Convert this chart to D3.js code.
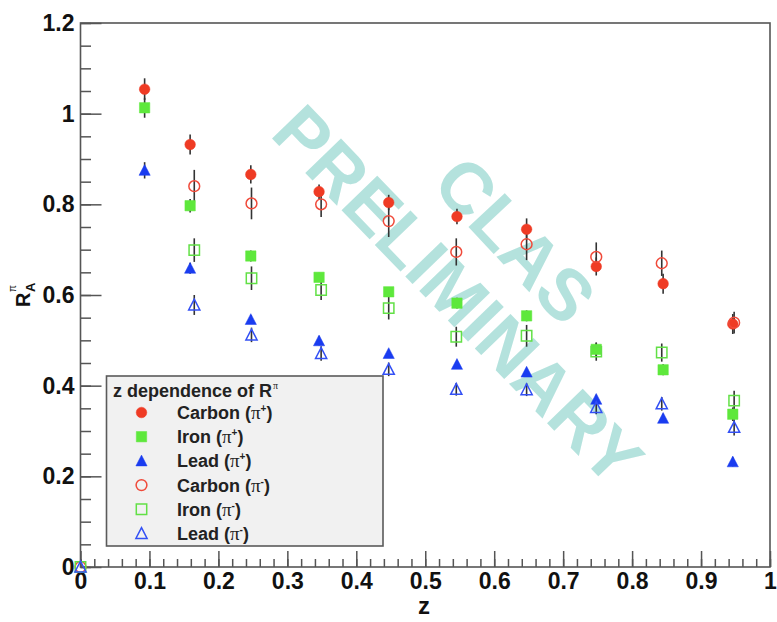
<!DOCTYPE html>
<html>
<head>
<meta charset="utf-8">
<script src="https://cdn.jsdelivr.net/npm/d3@7"></script>
<style>
  html, body { margin: 0; padding: 0; background: #fff; }
  svg { display: block; }
  text { font-family: "Liberation Sans", Arial, Helvetica, sans-serif; }
</style>
</head>
<body>
<svg id="chart" width="777" height="622"></svg>
<script>
// ---- data: nuclear attenuation ratio R_A^pi versus z ----
const zPlus  = [0.093, 0.159, 0.247, 0.346, 0.447, 0.546, 0.647, 0.748, 0.845, 0.946];
const zMinus = [0.000, 0.165, 0.248, 0.349, 0.447, 0.545, 0.647, 0.748, 0.843, 0.948];

const carbonPlus     = [1.054, 0.932, 0.866, 0.828, 0.804, 0.773, 0.745, 0.663, 0.625, 0.536];
const carbonPlusErr  = [0.024, 0.022, 0.020, 0.016, 0.017, 0.017, 0.024, 0.020, 0.022, 0.022];
const ironPlus       = [1.013, 0.797, 0.686, 0.639, 0.607, 0.582, 0.554, 0.480, 0.435, 0.337];
const ironPlusErr    = [0.022, 0.015, 0.012, 0.010, 0.010, 0.012, 0.012, 0.015, 0.012, 0.015];
const leadPlus       = [0.875, 0.659, 0.546, 0.499, 0.471, 0.447, 0.430, 0.370, 0.328, 0.232];
const leadPlusErr    = [0.018, 0.012, 0.010, 0.010, 0.008, 0.008, 0.008, 0.010, 0.010, 0.010];

const carbonMinus    = [0.000, 0.840, 0.802, 0.800, 0.763, 0.695, 0.712, 0.684, 0.670, 0.539];
const carbonMinusErr = [0.000, 0.036, 0.035, 0.028, 0.035, 0.030, 0.035, 0.032, 0.028, 0.024];
const ironMinus      = [0.000, 0.699, 0.637, 0.611, 0.571, 0.508, 0.510, 0.475, 0.473, 0.367];
const ironMinusErr   = [0.000, 0.026, 0.026, 0.022, 0.025, 0.022, 0.024, 0.020, 0.020, 0.022];
const leadMinus      = [0.000, 0.578, 0.512, 0.471, 0.436, 0.392, 0.391, 0.352, 0.360, 0.308];
const leadMinusErr   = [0.000, 0.022, 0.016, 0.016, 0.015, 0.014, 0.014, 0.015, 0.015, 0.018];

const xTickValues = [0, 0.1, 0.2, 0.3, 0.4, 0.5, 0.6, 0.7, 0.8, 0.9, 1];
const xTickLabels = ["0", "0.1", "0.2", "0.3", "0.4", "0.5", "0.6", "0.7", "0.8", "0.9", "1"];
const yTickValues = [0, 0.2, 0.4, 0.6, 0.8, 1, 1.2];
const yTickLabels = ["0", "0.2", "0.4", "0.6", "0.8", "1", "1.2"];

const legendTitle = "z dependence of R";
const seriesNames = ["Carbon", "Iron", "Lead", "Carbon", "Iron", "Lead"];
const seriesCharge = ["+", "+", "+", "-", "-", "-"];

// ---- series styling ----
const RED = "#ef3b24", GREEN = "#5ee83c", BLUE = "#1a3cf0";
const series = [
  { z: zPlus,  v: carbonPlus,  e: carbonPlusErr,  shape: "circle",   filled: true,  color: RED },
  { z: zPlus,  v: ironPlus,    e: ironPlusErr,    shape: "square",   filled: true,  color: GREEN },
  { z: zPlus,  v: leadPlus,    e: leadPlusErr,    shape: "triangle", filled: true,  color: BLUE },
  { z: zMinus, v: carbonMinus, e: carbonMinusErr, shape: "circle",   filled: false, color: "#f04a3a" },
  { z: zMinus, v: ironMinus,   e: ironMinusErr,   shape: "square",   filled: false, color: "#62e046" },
  { z: zMinus, v: leadMinus,   e: leadMinusErr,   shape: "triangle", filled: false, color: "#3350f5" }
];

const svg = d3.select("#chart");
const X0 = 80.5, X1 = 770, Y0 = 567, Y1 = 23;
const x = d3.scaleLinear().domain([0, 1]).range([X0, X1]);
const y = d3.scaleLinear().domain([0, 1.2]).range([Y0, Y1]);

// ---- watermark ----
const wm = svg.append("g").attr("fill", "#b4e2dd")
  .attr("font-weight", "bold").attr("font-size", 72)
  .attr("text-anchor", "middle").attr("dominant-baseline", "central");
wm.append("text").attr("transform", "translate(458,295) rotate(46)").text("PRELIMINARY");
wm.append("text").attr("transform", "translate(515,240) rotate(47)").text("CLAS");

// ---- axes ----
const axisColor = "#555";
function styleAxis(g) {
  g.select(".domain").remove();
  g.selectAll(".tick line").attr("stroke", axisColor).attr("stroke-width", 1.5);
  g.selectAll(".tick text").attr("fill", "#111").attr("font-weight", "bold")
    .attr("font-size", 23).attr("font-family", "Liberation Sans, Arial, sans-serif");
}
const xMinor = d3.range(0, 1.0001, 0.02).map(v => +v.toFixed(3));
svg.append("g").attr("transform", `translate(0,${Y0})`)
  .call(d3.axisBottom(x).tickValues(xMinor).tickSize(-8).tickFormat(""))
  .call(styleAxis);
svg.append("g").attr("transform", `translate(0,${Y0})`)
  .call(d3.axisBottom(x).tickValues(xTickValues).tickSize(-16).tickPadding(6)
        .tickFormat((d, i) => xTickLabels[i]))
  .call(styleAxis);

const yMinor = d3.range(0, 1.2001, 0.05).map(v => +v.toFixed(3));
svg.append("g").attr("transform", `translate(${X0},0)`)
  .call(d3.axisLeft(y).tickValues(yMinor).tickSize(-10.5).tickFormat(""))
  .call(styleAxis);
svg.append("g").attr("transform", `translate(${X0},0)`)
  .call(d3.axisLeft(y).tickValues(yTickValues).tickSize(-21).tickPadding(6)
        .tickFormat((d, i) => yTickLabels[i]))
  .call(styleAxis);

// frame
svg.append("rect").attr("x", X0).attr("y", Y1).attr("width", X1 - X0).attr("height", Y0 - Y1)
  .attr("fill", "none").attr("stroke", axisColor).attr("stroke-width", 1.6);

// axis titles
svg.append("text").attr("x", 424).attr("y", 614).attr("text-anchor", "middle")
  .attr("font-weight", "bold").attr("font-size", 24).attr("fill", "#111").text("z");
const yl = svg.append("g").attr("transform", "translate(30,307) rotate(-90)")
  .attr("font-weight", "bold").attr("fill", "#111");
yl.append("text").attr("x", 0).attr("y", 0).attr("font-size", 20).text("R");
yl.append("text").attr("x", 15).attr("y", -14).attr("font-size", 10)
  .attr("font-family", "Liberation Serif, serif").attr("font-weight", "normal").text("π");
yl.append("text").attr("x", 15).attr("y", 5).attr("font-size", 13).text("A");

// ---- markers ----
function markerPath(shape, s) {
  if (shape === "circle") return d3.symbol(d3.symbolCircle, Math.PI * s * s)();
  if (shape === "square") return `M${-s},${-s}H${s}V${s}H${-s}Z`;
  const h = s * 1.0;
  return `M0,${-h - 0.8}L${s + 0.6},${h}L${-s - 0.6},${h}Z`;
}
function drawMarker(g, d, cx, cy) {
  const r = d.shape === "circle" ? (d.filled ? 5.3 : 5.4) : (d.shape === "square" ? 5.2 : 5.0);
  g.append("path").attr("d", markerPath(d.shape, r))
    .attr("transform", `translate(${cx},${cy})`)
    .attr("fill", d.filled ? d.color : "none")
    .attr("stroke", d.color).attr("stroke-width", d.filled ? 0.5 : 1.5);
}

const plot = svg.append("g");
// error bars first, markers on top
series.forEach(s => {
  s.v.forEach((v, i) => {
    if (s.e[i] <= 0) return;
    plot.append("line").attr("x1", x(s.z[i])).attr("x2", x(s.z[i]))
      .attr("y1", y(v - s.e[i])).attr("y2", y(v + s.e[i]))
      .attr("stroke", "#333").attr("stroke-width", 1.6);
  });
});
series.forEach(s => {
  s.v.forEach((v, i) => drawMarker(plot, s, x(s.z[i]), y(v)));
});

// ---- legend ----
const lg = svg.append("g");
lg.append("rect").attr("x", 106.5).attr("y", 376).attr("width", 276.5).attr("height", 170)
  .attr("fill", "#f1f1f1").attr("stroke", "#5a5a5a").attr("stroke-width", 1.6);
const lt = lg.append("text").attr("x", 113).attr("y", 396.5)
  .attr("font-weight", "bold").attr("font-size", 18).attr("fill", "#222").text(legendTitle);
lt.append("tspan").attr("dx", 1).attr("dy", -8).attr("font-size", 10)
  .attr("font-family", "Liberation Serif, serif").attr("font-weight", "normal").text("π");

series.forEach((s, i) => {
  const cy = 412.5 + i * 24.2;
  drawMarker(lg, s, 141.5, cy);
  const t = lg.append("text").attr("x", 177).attr("y", cy + 6.5)
    .attr("font-weight", "bold").attr("font-size", 18).attr("fill", "#222")
    .text(seriesNames[i] + " (");
  t.append("tspan").attr("font-family", "Liberation Serif, serif").attr("font-weight", "normal")
    .attr("font-size", 19).text("π");
  t.append("tspan").attr("dy", -7).attr("font-size", 10).text(seriesCharge[i] === "+" ? "+" : "-");
  t.append("tspan").attr("dy", 7).text(")");
});
</script>
</body>
</html>
